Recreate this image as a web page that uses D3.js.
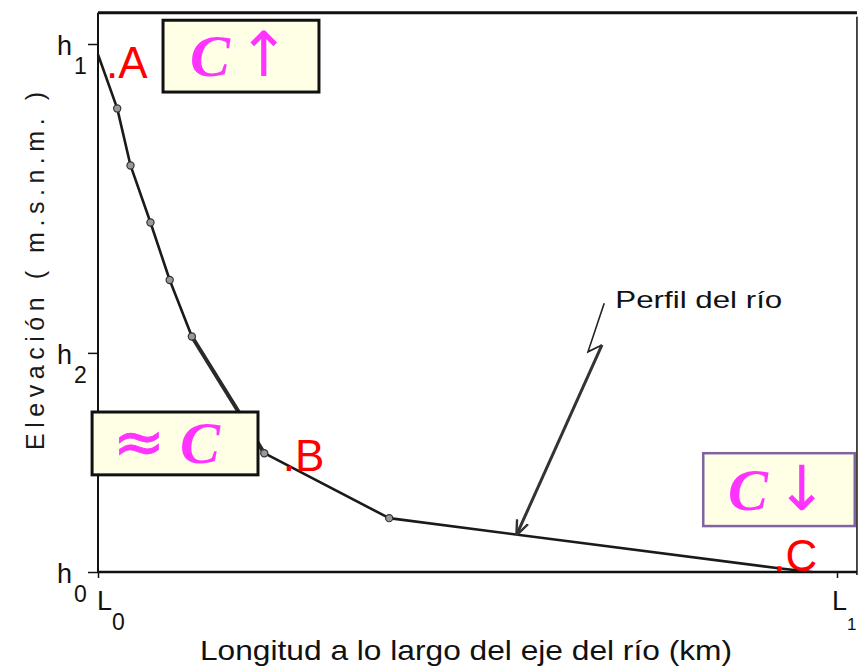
<!DOCTYPE html>
<html><head><meta charset="utf-8">
<script src="https://cdn.jsdelivr.net/npm/d3@7"></script>
<style>
html,body{margin:0;padding:0;background:#fff;}
svg{display:block;}
</style>
</head><body>
<svg id="c" width="859" height="672"></svg>
<script>
// ---- data (abstract units: length 0..100 = L0..L1, elevation 0..100 = h0..h1)
const profileX = [0, 2.6, 4.4, 7.1, 9.7, 12.7, 22.5, 39.4, 92.1, 96.6];
const profileY = [98, 87.8, 77.0, 66.2, 55.3, 44.6, 22.5, 10.2, 0.7, 0];
const markerIdx = [1, 2, 3, 4, 5, 6, 7];
const yTickValues = [0, 41.5, 100];
const yTickSubs = ["0", "2", "1"];
const xTickValues = [0, 100];
const xTickSubs = ["0", "1"];
const pointLabels = ["A", "B", "C"];
const pointX = [1.9, 25.8, 92.2];
const pointY = [94.1, 19.7, 0.76];
const boxTexts = [["C", "↑"], ["≈", "C"], ["C", "↓"]];
const xTitle = "Longitud a lo largo del eje del río (km)";
const yTitle = "Elevación ( m.s.n.m. )";
const calloutText = "Perfil del río";

const svg = d3.select("#c");
const x = d3.scaleLinear().domain([0, 100]).range([98, 837]);
const y = d3.scaleLinear().domain([0, 100]).range([572, 44]);
const xEnd = 102.7, yTop = 105.9;
const handFont = "'Liberation Sans', Arial, sans-serif";

// frame
const frame = svg.append("g").attr("fill", "none").attr("stroke", "#111");
frame.append("line").attr("x1", x(0)).attr("x2", x(xEnd)).attr("y1", y(yTop)).attr("y2", y(yTop)).attr("stroke-width", 3);
frame.append("line").attr("x1", x(xEnd)).attr("x2", x(xEnd)).attr("y1", y(yTop) + 4).attr("y2", y(0) + 3).attr("stroke-width", 1.5);
frame.append("line").attr("x1", x(0)).attr("x2", x(xEnd)).attr("y1", y(0)).attr("y2", y(0)).attr("stroke-width", 2.5);

// y axis with ticks
const yAxis = d3.axisLeft(y).tickValues(yTickValues).tickSize(10).tickFormat("");
const gy = svg.append("g").attr("transform", `translate(${x(0)},0)`).call(yAxis);
gy.select(".domain").attr("stroke", "#111").attr("stroke-width", 2).attr("d", `M0,${y(yTop)}V${y(0)}`);
gy.selectAll(".tick line").attr("stroke", "#111").attr("stroke-width", 1.5);

// x axis ticks
const xAxis = d3.axisBottom(x).tickValues(xTickValues).tickSize(6).tickFormat("");
const gx = svg.append("g").attr("transform", `translate(0,${y(0)})`).call(xAxis);
gx.select(".domain").remove();
gx.selectAll(".tick line").attr("stroke", "#111").attr("stroke-width", 1.5);

// y tick labels (h with subscript)
yTickValues.forEach((v, i) => {
  const t = svg.append("text").attr("font-family", handFont).attr("fill", "#111")
    .attr("x", x(0) - 41).attr("y", y(v) + 11).attr("font-size", 27);
  t.append("tspan").text("h");
  t.append("tspan").attr("dx", 2).attr("dy", 19).attr("font-size", 23).text(yTickSubs[i]);
});
// x tick labels (L with subscript)
xTickValues.forEach((v, i) => {
  const t = svg.append("text").attr("font-family", handFont).attr("fill", "#111")
    .attr("x", x(v) - (i === 0 ? 1 : 5)).attr("y", y(0) + 38).attr("font-size", 27);
  t.append("tspan").text("L");
  t.append("tspan").attr("dx", 0).attr("dy", 20).attr("font-size", i === 0 ? 23 : 17).text(xTickSubs[i]);
});

// axis titles
svg.append("text").attr("font-family", handFont).attr("fill", "#1a1a1a").attr("font-size", 25)
  .attr("text-anchor", "middle").attr("textLength", 358).attr("lengthAdjust", "spacing")
  .attr("transform", `translate(44,271) rotate(-90)`).text(yTitle);
svg.append("text").attr("font-family", handFont).attr("fill", "#111").attr("font-size", 28)
  .attr("x", 200).attr("y", 660).attr("textLength", 532).attr("lengthAdjust", "spacingAndGlyphs").text(xTitle);

// profile line
const pts = profileX.map((d, i) => [d, profileY[i]]);
const line = d3.line().x(d => x(d[0])).y(d => y(d[1]));
svg.append("path").datum(pts).attr("d", line).attr("fill", "none")
  .attr("stroke", "#1a1a1a").attr("stroke-width", 2.6).attr("stroke-linejoin", "round");
svg.append("path").datum(pts.slice(5, 7)).attr("d", line).attr("fill", "none")
  .attr("stroke", "#2a2a2a").attr("stroke-width", 4);
svg.selectAll("circle.m").data(markerIdx).join("circle").attr("class", "m")
  .attr("cx", i => x(profileX[i])).attr("cy", i => y(profileY[i])).attr("r", 3.6)
  .attr("fill", "#999").attr("stroke", "#333").attr("stroke-width", 1.2);

// callout "Perfil del río" with zigzag leader
const defs = svg.append("defs");
defs.append("marker").attr("id", "ah").attr("viewBox", "0 0 10 10").attr("refX", 9).attr("refY", 5)
  .attr("markerWidth", 5).attr("markerHeight", 5).attr("orient", "auto")
  .append("path").attr("d", "M0,1L10,5L0,9").attr("fill", "none").attr("stroke", "#333").attr("stroke-width", 1.6);
const leadX = [68.5, 66.3, 68.2, 56.7];
const leadY = [50.9, 41.7, 43.0, 7.2];
const lead = leadX.map((d, i) => [d, leadY[i]]);
svg.append("path").datum(lead.slice(0, 3)).attr("d", line).attr("fill", "none").attr("stroke", "#222").attr("stroke-width", 1.6);
svg.append("path").datum(lead.slice(2)).attr("d", line).attr("fill", "none").attr("stroke", "#333")
  .attr("stroke-width", 3).attr("marker-end", "url(#ah)");
svg.append("text").attr("font-family", handFont).attr("fill", "#111").attr("font-size", 24)
  .attr("x", x(70.0)).attr("y", y(50.0)).attr("textLength", 167).attr("lengthAdjust", "spacingAndGlyphs").text(calloutText);

// annotation boxes
const boxX0 = [8.8, -0.8, 81.9], boxX1 = [29.9, 21.65, 102.4];
const boxYT = [104.5, 30.3, 22.5], boxYB = [90.9, 18.4, 8.7];
const boxStroke = ["#111", "#111", "#8064A2"];
boxTexts.forEach((bt, i) => {
  const g = svg.append("g");
  const x0 = x(boxX0[i]), x1 = x(boxX1[i]), y0 = y(boxYT[i]), y1 = y(boxYB[i]);
  g.append("rect").attr("x", x0).attr("y", y0).attr("width", x1 - x0).attr("height", y1 - y0)
    .attr("fill", "#FFFFE5").attr("stroke", boxStroke[i]).attr("stroke-width", i === 2 ? 2.5 : 3);
  const cx = (x0 + x1) / 2, cy = (y0 + y1) / 2;
  const offs = i === 1 ? [-36, 25] : [-31, 23];
  bt.forEach((s, j) => {
    const isC = s === "C";
    const t = g.append("text").text(s).attr("fill", "#FF33FF")
      .attr("font-family", isC ? "'Liberation Serif', 'DejaVu Serif', serif" : "'DejaVu Sans', sans-serif")
      .attr("font-style", isC ? "italic" : "normal").attr("font-weight", isC ? "bold" : "normal")
      .attr("text-anchor", "middle").attr("x", cx + offs[j]);
    if (isC) t.attr("font-size", 60).attr("y", cy + 20);
    else if (s === "≈") t.attr("font-size", 62).attr("y", cy + 20).attr("stroke", "#FF33FF").attr("stroke-width", 0.8);
    else t.attr("font-size", 62).attr("y", cy + 20);
  });
});

// red point labels
pointLabels.forEach((lab, i) => {
  svg.append("text").attr("font-family", handFont).attr("fill", "#FF0000").attr("font-size", 44)
    .attr("x", x(pointX[i]) - 6).attr("y", y(pointY[i]) + 3).text("." + lab);
});
</script>
</body></html>
